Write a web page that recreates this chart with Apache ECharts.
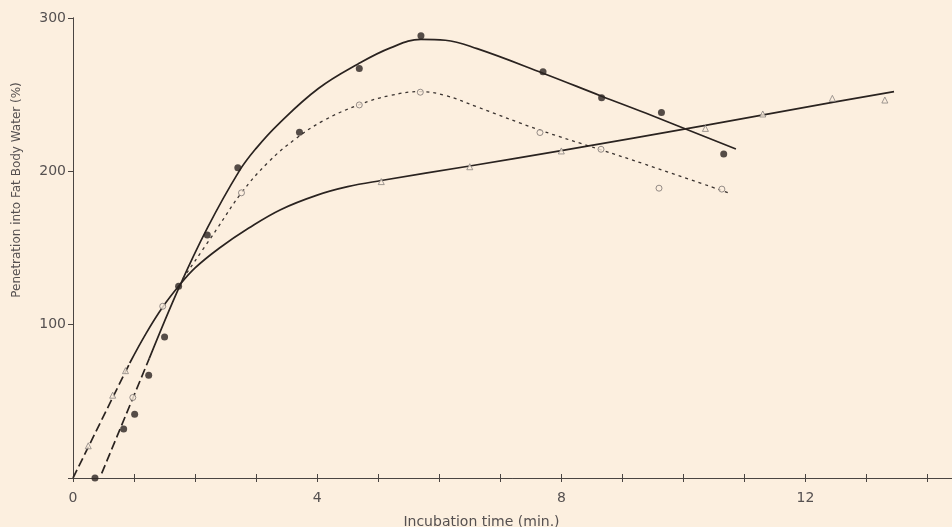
<!DOCTYPE html>
<html>
<head>
<meta charset="utf-8">
<script src="https://cdn.jsdelivr.net/npm/echarts@6/dist/echarts.min.js"></script>
<style>
html,body{margin:0;padding:0;background:#fcefdf;}
#chart{width:952px;height:527px;}
</style>
</head>
<body>
<div id="chart"></div>
<script>
// ---- data ----
const xTickValues = [0, 4, 8, 12];
const xTickLabels = ['0', '4', '8', '12'];
const yTickValues = [100, 200, 300];
const yTickLabels = ['100', '200', '300'];

// measured points
const filledPoints = [[0.36,0],[0.83,32],[1.01,41.5],[1.24,67],[1.50,92],[1.73,125],[2.2,158.5],[2.7,202.4],[3.71,225.5],[4.69,267],[5.70,288.5],[7.70,265],[8.66,248],[9.64,238.3],[10.66,211.3]];
const openPoints = [[0.98,52.5],[1.47,112],[2.76,186],[4.69,243.3],[5.69,251.6],[7.65,225.3],[8.65,214.4],[9.6,189],[10.63,188.4]];
const trianglePoints = [[0.25,21],[0.65,54],[0.86,70],[5.05,193.3],[6.5,203],[8.0,213.3],[10.36,228],[11.3,237.4],[12.44,247.6],[13.3,246.5]];

// fitted curves as drawn in the figure
const filledCurveDashed = [[0.47,3],[1.25,78]];
const filledCurveSolid = [[1.25,78],[1.74,124.5],[2.2,163],[2.72,200],[3.0,215],[3.37,231],[4.02,254],[4.67,270],[5.2,280.5],[5.7,286],[6.1,285.5],[6.62,280],[7.7,264],[8.66,249],[9.38,238],[10.86,214.6]];
const openCurveDotted = [[1.8,130],[2.35,162],[2.76,186],[3.2,206],[3.64,221],[4.1,233],[4.69,243.5],[5.2,249.5],[5.69,252],[6.1,249.5],[6.62,242],[7.64,227],[8.65,214],[9.38,204.5],[10.74,186]];
const triangleCurveDashed = [[0,0],[0.93,75]];
const triangleCurveSolid = [[0.93,75],[1.2,94.5],[1.47,111.5],[1.74,125.5],[2.0,137],[2.4,150],[2.88,163],[3.4,175],[4.0,184.5],[4.5,190],[5.05,194],[6.5,203.5],[8.0,213.5],[10.36,230],[12.44,245],[13.45,252]];

const xTitle = 'Incubation time (min.)';
const yTitle = 'Penetration into Fat Body Water (%)';

// ---- chart ----
const BG = '#fcefdf';
const INK = '#2a2320';
const AX = '#4a4542';
const TXT = '#555050';
const FONT = 'DejaVu Sans';

const chart = echarts.init(document.getElementById('chart'), null, {renderer: 'canvas'});

function lineSeries(data, type, width, smooth, color) {
  return {
    type: 'line', data: data, smooth: smooth, showSymbol: false, symbol: 'none',
    lineStyle: {color: color || INK, width: width, type: type},
    silent: true, z: 2, animation: false
  };
}

const option = {
  backgroundColor: BG,
  animation: false,
  grid: {left: 73, right: 0, top: 18, bottom: 49, containLabel: false, outerBoundsMode: 'none'},
  xAxis: [{
    type: 'value', min: 0, max: 14.4, interval: 1, position: 'bottom',
    axisLine: {show: true, lineStyle: {color: AX, width: 1}},
    axisTick: {show: true, inside: true, length: 4, lineStyle: {color: AX}},
    splitLine: {show: false},
    axisLabel: {
      show: true, margin: 13, color: TXT, fontFamily: FONT, fontSize: 14,
      showMaxLabel: false,
      formatter: function (v) { const i = xTickValues.indexOf(v); return i >= 0 ? xTickLabels[i] : ''; }
    },
    name: xTitle, nameLocation: 'middle', nameGap: 37,
    nameTextStyle: {color: TXT, fontFamily: FONT, fontSize: 14, padding: [0, 62, 0, 0]}
  }, {
    type: 'value', min: 0, max: 14.4, interval: 1, position: 'top',
    axisLine: {show: true, lineStyle: {color: AX, width: 1}},
    axisTick: {show: true, inside: true, length: 4, lineStyle: {color: AX}},
    axisLabel: {show: false}, splitLine: {show: false}
  }],
  yAxis: [{
    type: 'value', min: 0, max: 300, interval: 100, position: 'left',
    axisLine: {show: true, lineStyle: {color: AX, width: 1}},
    axisTick: {show: true, inside: false, length: 5, lineStyle: {color: AX}},
    splitLine: {show: false},
    axisLabel: {
      show: true, margin: 7, color: TXT, fontFamily: FONT, fontSize: 14,
      formatter: function (v) { const i = yTickValues.indexOf(v); return i >= 0 ? yTickLabels[i] : ''; }
    },
    name: yTitle, nameLocation: 'middle', nameGap: 50,
    nameTextStyle: {color: TXT, fontFamily: FONT, fontSize: 12, padding: [0, 0, 0, 116]}
  }, {
    type: 'value', min: 0, max: 300, interval: 100, position: 'right',
    axisLine: {show: true, lineStyle: {color: AX, width: 1}},
    axisTick: {show: true, inside: true, length: 5, lineStyle: {color: AX}},
    axisLabel: {show: false}, splitLine: {show: false}
  }],
  series: [
    lineSeries(filledCurveDashed, [9, 4], 1.7, false),
    lineSeries(filledCurveSolid, 'solid', 1.7, 0.4),
    lineSeries(openCurveDotted, [3, 4], 1.3, 0.4, '#3a3330'),
    lineSeries(triangleCurveDashed, [9, 4], 1.7, false),
    lineSeries(triangleCurveSolid, 'solid', 1.7, 0.4),
    {
      type: 'scatter', data: filledPoints, symbol: 'circle', symbolSize: 7,
      itemStyle: {color: INK}, z: 5, silent: true
    },
    {
      type: 'scatter', data: openPoints, symbol: 'circle', symbolSize: 6,
      itemStyle: {color: BG, borderColor: '#7a7370', borderWidth: 1}, z: 4, silent: true
    },
    {
      type: 'scatter', data: trianglePoints, symbol: 'triangle', symbolSize: 6,
      itemStyle: {color: BG, borderColor: '#8a8380', borderWidth: 1}, z: 4, silent: true
    }
  ]
};
chart.setOption(option);
</script>
</body>
</html>
